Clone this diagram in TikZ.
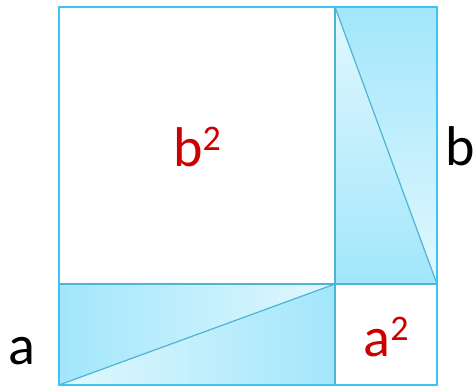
\documentclass[tikz,border=0pt]{standalone}
\usepackage{fontspec}
\setmainfont{Carlito}
\usetikzlibrary{shadings}
\definecolor{dk}{HTML}{A2E6FB}
\definecolor{lt}{HTML}{E2F8FE}
\definecolor{bord}{HTML}{3EC3F2}
\definecolor{inl}{HTML}{4EB4D4}
\definecolor{lab}{HTML}{CC0000}
\tikzset{
  lbl/.style={font=\fontsize{56}{60}\selectfont, text=black, inner sep=0pt},
  sq/.style={font=\fontsize{56}{60}\selectfont, text=lab, inner sep=0pt},
  inner line/.style={draw=inl, line width=1.4pt},
  diag/.style={draw=inl, line width=1.2pt},
}
\begin{document}
\begin{tikzpicture}[x=1pt,y=-1pt]
\useasboundingbox (0,0) rectangle (476,387);
\coordinate (TL) at (59,7);
\coordinate (TM) at (335,7);
\coordinate (TR) at (437,7);
\coordinate (ML) at (59,284);
\coordinate (MM) at (335,284);
\coordinate (MR) at (437,284);
\coordinate (BL) at (59,385);
\coordinate (BM) at (335,385);
\coordinate (BR) at (437,385);
% right strip
\shade[top color=dk, bottom color=lt] (TM) -- (TR) -- (MR) -- cycle;
\shade[top color=lt, bottom color=dk] (TM) -- (MM) -- (MR) -- cycle;
% bottom strip
\shade[left color=dk, right color=lt] (ML) -- (MM) -- (BL) -- cycle;
\shade[left color=lt, right color=dk] (BL) -- (MM) -- (BM) -- cycle;
\draw[diag] (TM) -- (MR);
\draw[diag] (BL) -- (MM);
\draw[inner line] (TM) -- (BM);
\draw[inner line] (ML) -- (MR);
\draw[draw=bord, line width=2pt] (TL) rectangle (BR);
\node[sq] (b2) at (197,147) {b\raisebox{0.6ex}{\fontsize{36}{40}\selectfont 2}};
\node[sq] (a2) at (386,337) {a\raisebox{0.6ex}{\fontsize{36}{40}\selectfont 2}};
\node[lbl] (a) at (22,351) {a};
\node[lbl] (b) at (460,146) {b};
\end{tikzpicture}
\end{document}
